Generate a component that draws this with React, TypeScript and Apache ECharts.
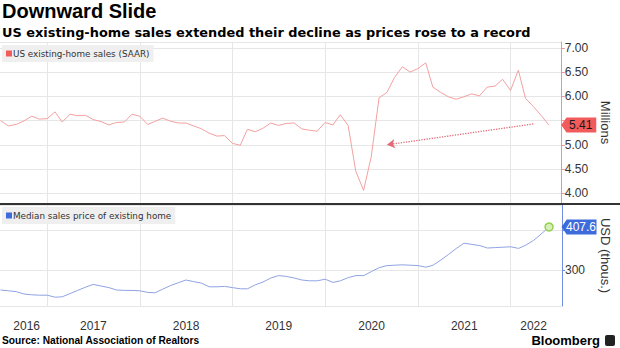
import React, { useEffect, useRef } from "react";
import * as echarts from "echarts";

// Monthly observations (plotted at month end)
const months = [
  "2016-06", "2016-07", "2016-08", "2016-09", "2016-10", "2016-11", "2016-12",
  "2017-01", "2017-02", "2017-03", "2017-04", "2017-05", "2017-06", "2017-07", "2017-08", "2017-09", "2017-10", "2017-11", "2017-12",
  "2018-01", "2018-02", "2018-03", "2018-04", "2018-05", "2018-06", "2018-07", "2018-08", "2018-09", "2018-10", "2018-11", "2018-12",
  "2019-01", "2019-02", "2019-03", "2019-04", "2019-05", "2019-06", "2019-07", "2019-08", "2019-09", "2019-10", "2019-11", "2019-12",
  "2020-01", "2020-02", "2020-03", "2020-04", "2020-05", "2020-06", "2020-07", "2020-08", "2020-09", "2020-10", "2020-11", "2020-12",
  "2021-01", "2021-02", "2021-03", "2021-04", "2021-05", "2021-06", "2021-07", "2021-08", "2021-09", "2021-10", "2021-11", "2021-12",
  "2022-01", "2022-02", "2022-03", "2022-04", "2022-05",
];

// US existing-home sales, SAAR, millions
const sales = [
  5.5, 5.39, 5.42, 5.49, 5.59, 5.53, 5.54,
  5.68, 5.47, 5.63, 5.6, 5.61, 5.52, 5.48, 5.41, 5.46, 5.47, 5.63, 5.59,
  5.42, 5.48, 5.55, 5.49, 5.45, 5.45, 5.39, 5.33, 5.24, 5.18, 5.19, 5.03,
  4.99, 5.32, 5.27, 5.34, 5.45, 5.4, 5.44, 5.45, 5.33, 5.3, 5.28, 5.46,
  5.41, 5.62, 5.4, 4.46, 4.06, 4.75, 5.97, 6.08, 6.39, 6.61, 6.5, 6.57,
  6.69, 6.19, 6.08, 5.99, 5.94, 5.99, 6.05, 6.01, 6.19, 6.21, 6.35, 6.12,
  6.54, 5.96, 5.79, 5.61, 5.41,
];

// Median sales price of existing home, USD thousands
const prices = [
  250, 248, 246, 240, 238, 237, 237,
  232, 233, 241, 249, 257, 264, 260, 256, 250, 249, 249, 248,
  244, 243, 252, 261, 268, 275, 271, 267, 258, 258, 259, 256,
  253, 253, 263, 270, 280, 286, 284, 280, 275, 273, 273, 277,
  269, 273, 281, 286, 286, 296, 306, 311, 312, 313, 312, 311,
  307, 312, 325, 339, 354, 367, 364, 361, 355, 356, 357, 358,
  354, 362, 374, 390, 407.6,
];

// Axis range and tick labels (dates)
const axisStart = "2016-06-29";
const axisEnd = "2022-07-22";
const yearBoundaries = ["2017-01-01", "2018-01-01", "2019-01-01", "2020-01-01", "2021-01-01", "2022-01-01"];
const yearLabelDates = ["2016-10-12", "2017-07-02", "2018-07-02", "2019-07-02", "2020-07-02", "2021-07-02", "2022-04-01"];

// Annotation arrow (from, to) in [month, value]
const arrowFrom: [string, number] = ["2022-03", 5.43];
const arrowTo: [string, number] = ["2020-08", 5.0];

const salesName = "US existing-home sales (SAAR)";
const priceName = "Median sales price of existing home";

const FONT = "Liberation Sans";
const WIDE = "DejaVu Sans";

const monthEnd = (s: string) => {
  const [y, m] = s.split("-").map(Number);
  return Date.UTC(y, m, 1);
};
const day = (s: string) => {
  const [y, m, d] = s.split("-").map(Number);
  return Date.UTC(y, m - 1, d);
};

export default function App() {
  const ref = useRef<HTMLDivElement>(null);
  useEffect(() => {
    if (!ref.current) return;
    const chart = echarts.init(ref.current, null, { renderer: "svg" });
    const xMin = day(axisStart);
    const xMax = day(axisEnd);
    const salesData = months.map((m, i) => [monthEnd(m), sales[i]]);
    const priceData = months.map((m, i) => [monthEnd(m), prices[i]]);
    const lastSales = sales[sales.length - 1];
    const lastPrice = prices[prices.length - 1];
    const lastT = monthEnd(months[months.length - 1]);
    const tagPath = "path://M0,6 L6,0 L40,0 L40,12 L6,12 Z";

    const xBase = (gridIndex: number, labels: boolean) => ({
      type: "value",
      gridIndex,
      min: xMin,
      max: xMax,
      axisLine: { show: false },
      axisTick: { show: false, customValues: yearBoundaries.map(day) },
      splitLine: { show: true, lineStyle: { color: "#e6e6e6", width: 1 } },
      axisLabel: labels
        ? {
            show: true,
            customValues: yearLabelDates.map(day),
            formatter: (v: number) => String(new Date(v).getUTCFullYear()),
            color: "#333",
            fontSize: 12,
            fontFamily: FONT,
            margin: 14,
            hideOverlap: false,
          }
        : { show: false },
    });

    const legendBase = {
      icon: "rect",
      itemWidth: 6,
      itemHeight: 6,
      itemGap: 2,
      selectedMode: false,
      backgroundColor: "#efefef",
      padding: [4, 4, 4, 4],
      textStyle: { fontFamily: WIDE, fontSize: 8.8, color: "#333", padding: [0, 0, 0, -4] },
    };

    chart.setOption({
      animation: false,
      backgroundColor: "#fff",
      title: {
        text: "Downward Slide",
        subtext: "US existing-home sales extended their decline as prices rose to a record",
        left: 2,
        top: 1,
        padding: 0,
        itemGap: 5,
        textStyle: { fontFamily: FONT, fontWeight: "bold", fontSize: 20, color: "#000" },
        subtextStyle: { fontFamily: WIDE, fontWeight: "bold", fontSize: 12.9, color: "#000" },
      },
      legend: [
        { ...legendBase, data: [{ name: salesName, itemStyle: { color: "#f25b5b" } }], left: 2, top: 45 },
        { ...legendBase, data: [{ name: priceName, itemStyle: { color: "#3d6bdb" } }], left: 2, top: 207 },
      ],
      grid: [
        { left: 0, right: 51, top: 42, height: 161, containLabel: false },
        { left: 0, right: 51, top: 205, height: 101, containLabel: false },
      ],
      xAxis: [xBase(0, false), xBase(1, true)],
      yAxis: [
        {
          type: "value",
          gridIndex: 0,
          position: "right",
          min: 3.8,
          max: 7.12,
          splitNumber: 6,
          axisLine: { show: true, lineStyle: { color: "#f39191", width: 1 } },
          axisTick: { show: true, length: 3, lineStyle: { color: "#f39191" } },
          axisLabel: {
            color: "#333",
            fontSize: 12,
            fontFamily: FONT,
            margin: 3,
            showMinLabel: false,
            showMaxLabel: false,
            formatter: (v: number) => (Math.abs(v - lastSales) < 0.2 ? "" : v.toFixed(2)),
          },
          splitLine: { show: true, lineStyle: { color: "#e6e6e6" } },
          name: "Millions",
          nameLocation: "middle",
          nameRotate: -90,
          nameGap: 37,
          nameTextStyle: { fontFamily: FONT, fontSize: 13, color: "#333" },
        },
        {
          type: "value",
          gridIndex: 1,
          position: "right",
          min: 210,
          max: 462.5,
          splitNumber: 3,
          axisLine: { show: true, lineStyle: { color: "#6f8ee3", width: 1 } },
          axisTick: { show: true, length: 3, lineStyle: { color: "#6f8ee3" } },
          axisLabel: {
            color: "#333",
            fontSize: 12,
            fontFamily: FONT,
            margin: 3,
            showMinLabel: false,
            showMaxLabel: false,
            formatter: (v: number) => (Math.abs(v - lastPrice) < 20 ? "" : String(v)),
          },
          splitLine: { show: true, lineStyle: { color: "#e6e6e6" } },
          name: "USD (thous.)",
          nameLocation: "middle",
          nameRotate: -90,
          nameGap: 37,
          nameTextStyle: { fontFamily: FONT, fontSize: 13, color: "#333" },
        },
      ],
      series: [
        {
          name: salesName,
          type: "line",
          xAxisIndex: 0,
          yAxisIndex: 0,
          data: salesData,
          showSymbol: false,
          color: "#f25b5b",
          lineStyle: { color: "#f4a0a0", width: 1 },
          silent: true,
          markLine: {
            silent: true,
            symbol: ["none", "arrow"],
            symbolSize: [7, 8],
            label: { show: false },
            lineStyle: { color: "#e06b77", type: "dotted", width: 1.3 },
            data: [
              [
                { coord: [monthEnd(arrowFrom[0]), arrowFrom[1]] },
                { coord: [monthEnd(arrowTo[0]), arrowTo[1]] },
              ],
            ],
          },
          markPoint: {
            silent: true,
            data: [
              {
                coord: [xMax, lastSales],
                symbol: tagPath,
                symbolSize: [35, 15],
                symbolKeepAspect: false,
                symbolOffset: [17, 0],
                itemStyle: { color: "#f25b5b" },
                label: {
                  show: true,
                  position: "inside",
                  offset: [2, 0],
                  formatter: lastSales.toFixed(2),
                  color: "#1a1a1a",
                  fontFamily: FONT,
                  fontSize: 12,
                },
              },
            ],
          },
        },
        {
          name: priceName,
          type: "line",
          xAxisIndex: 1,
          yAxisIndex: 1,
          data: priceData,
          showSymbol: false,
          color: "#3d6bdb",
          lineStyle: { color: "#8fa3e3", width: 1 },
          silent: true,
          markPoint: {
            silent: true,
            data: [
              {
                coord: [lastT, lastPrice],
                symbol: "circle",
                symbolSize: 8,
                itemStyle: { color: "#d8efbb", borderColor: "#93d150", borderWidth: 1.5 },
                label: { show: false },
              },
              {
                coord: [xMax, lastPrice],
                symbol: tagPath,
                symbolSize: [35, 15],
                symbolKeepAspect: false,
                symbolOffset: [17, 0],
                itemStyle: { color: "#3d6bdb" },
                label: {
                  show: true,
                  position: "inside",
                  offset: [2, 0],
                  formatter: String(lastPrice),
                  color: "#fff",
                  fontFamily: FONT,
                  fontSize: 12,
                },
              },
            ],
          },
        },
      ],
      graphic: [
        {
          type: "line",
          shape: { x1: 0, y1: 204, x2: 620, y2: 204 },
          style: { stroke: "#333", lineWidth: 2 },
          z: 10,
        },
        {
          type: "text",
          left: 2,
          top: 335,
          style: {
            text: "Source: National Association of Realtors",
            fontFamily: FONT,
            fontWeight: "bold",
            fontSize: 10.2,
            fill: "#000",
          },
        },
        {
          type: "text",
          right: 20,
          top: 334,
          style: { text: "Bloomberg", fontFamily: FONT, fontWeight: "bold", fontSize: 13, fill: "#000" },
        },
        {
          type: "rect",
          right: 5,
          top: 335,
          shape: { width: 10, height: 11, r: 2 },
          style: { fill: "#222" },
        },
      ],
    });
    return () => chart.dispose();
  }, []);
  return (
    <div
      ref={ref}
      style={{ position: "fixed", left: 0, top: 0, width: 620, height: 348, background: "#fff" }}
    />
  );
}
